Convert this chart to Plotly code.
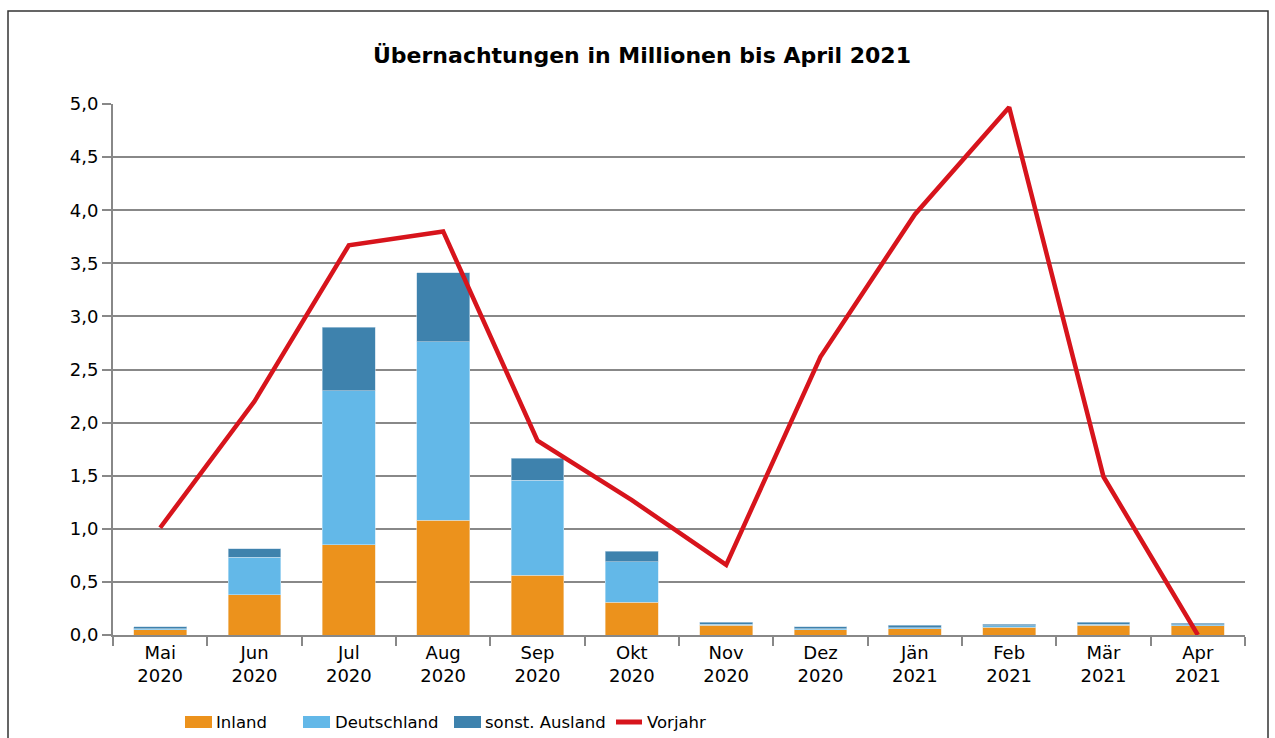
import plotly.graph_objects as go

categories = ["Mai<br>2020", "Jun<br>2020", "Jul<br>2020", "Aug<br>2020", "Sep<br>2020", "Okt<br>2020",
              "Nov<br>2020", "Dez<br>2020", "Jän<br>2021", "Feb<br>2021", "Mär<br>2021", "Apr<br>2021"]
inland = [0.05, 0.38, 0.85, 1.08, 0.565, 0.31, 0.09, 0.05, 0.06, 0.075, 0.09, 0.085]
deutschland = [0.01, 0.35, 1.45, 1.68, 0.89, 0.38, 0.01, 0.008, 0.01, 0.01, 0.01, 0.01]
ausland = [0.02, 0.08, 0.60, 0.65, 0.21, 0.10, 0.02, 0.02, 0.02, 0.015, 0.02, 0.015]
vorjahr = [1.01, 2.20, 3.67, 3.80, 1.83, 1.27, 0.66, 2.62, 3.96, 4.97, 1.49, 0.0]
series_names = ["Inland", "Deutschland", "sonst. Ausland", "Vorjahr"]

FONT = "DejaVu Sans"
C_IN, C_DE, C_AU, C_VJ = "#EC921C", "#63B8E8", "#3E82AD", "#D7141C"

fig = go.Figure()
fig.add_trace(go.Bar(x=categories, y=inland, name=series_names[0], marker_color=C_IN,
                     marker_line=dict(color="#F5D9B0", width=0.6)))
fig.add_trace(go.Bar(x=categories, y=deutschland, name=series_names[1], marker_color=C_DE,
                     marker_line=dict(color="#C6E4F6", width=0.6)))
fig.add_trace(go.Bar(x=categories, y=ausland, name=series_names[2], marker_color=C_AU,
                     marker_line=dict(color="#BFD6E6", width=0.6)))
fig.add_trace(go.Scatter(x=categories, y=vorjahr, name=series_names[3], mode="lines",
                         line=dict(color=C_VJ, width=4.5)))

L, R, T, B = 113, 30, 104, 103
PW, PH = 1275 - L - R, 738 - T - B


def px_x(px):
    return (px - L) / PW


def px_y(py):
    return (738 - B - py) / PH


fig.update_layout(
    barmode="stack",
    bargap=0.44,
    width=1275, height=738,
    margin=dict(l=L, r=R, t=T, b=B),
    paper_bgcolor="white", plot_bgcolor="white",
    separators=",.",
    font=dict(family=FONT, size=18, color="black"),
    title=dict(text="<b>Übernachtungen in Millionen bis April 2021</b>", x=642 / 1275, xref="container",
               xanchor="center", y=1 - 55 / 738, yref="container", yanchor="middle",
               font=dict(size=22, family=FONT)),
    showlegend=False,
    xaxis=dict(showline=True, linecolor="#888888", linewidth=2, ticks="outside", tickson="boundaries",
               ticklen=9, tickcolor="#888888", tickwidth=2, showgrid=False,
               tickfont=dict(size=18, family=FONT)),
    yaxis=dict(range=[0, 5], dtick=0.5, tickformat=".1f", showgrid=True, gridcolor="#888888", gridwidth=2,
               showline=True, linecolor="#888888", linewidth=2, ticks="outside", ticklen=9,
               tickcolor="#888888", tickwidth=2, zeroline=False, tickfont=dict(size=18, family=FONT)),
)

# outer frame
fig.add_shape(type="rect", xref="paper", yref="paper",
              x0=px_x(8), x1=px_x(1268), y0=px_y(760), y1=px_y(11),
              line=dict(color="#333333", width=1.5), fillcolor="rgba(0,0,0,0)", layer="below")

# custom legend
ly = 722
legend_items = [(185, 214, C_IN, "rect"), (303, 333, C_DE, "rect"), (454, 483, C_AU, "rect"),
                (614, 645, C_VJ, "line")]
for name, (sx, tx, col, kind) in zip(series_names, legend_items):
    if kind == "rect":
        fig.add_shape(type="rect", xref="paper", yref="paper", x0=px_x(sx), x1=px_x(sx + 27),
                      y0=px_y(ly + 6), y1=px_y(ly - 6), fillcolor=col, line=dict(width=0))
    else:
        fig.add_shape(type="line", xref="paper", yref="paper", x0=px_x(sx + 2), x1=px_x(sx + 28),
                      y0=px_y(ly), y1=px_y(ly), line=dict(color=col, width=5))
    fig.add_annotation(text=name, xref="paper", yref="paper", x=px_x(tx), y=px_y(ly),
                       xanchor="left", yanchor="middle", showarrow=False,
                       font=dict(size=16.5, family=FONT, color="black"))

fig.write_html("out.html", config={"displayModeBar": False},
               post_script="document.body.style.margin='0';")
